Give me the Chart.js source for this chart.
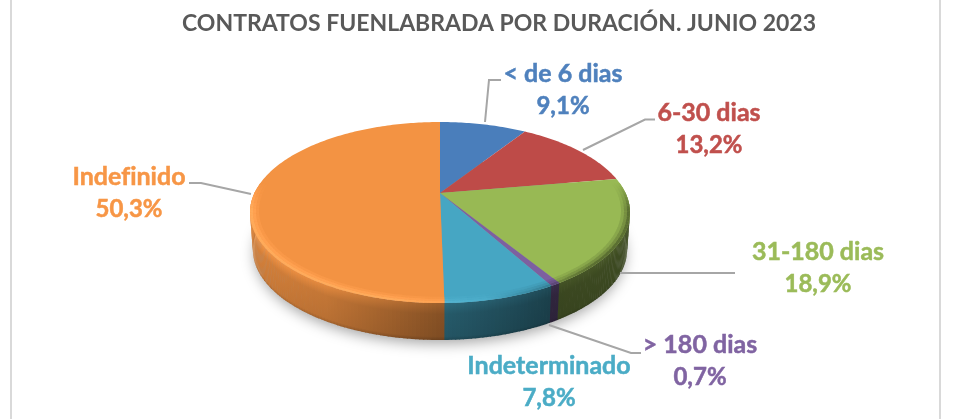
<!DOCTYPE html>
<html>
<head>
<meta charset="utf-8">
<style>html,body{margin:0;padding:0;background:#fff}canvas{display:block}</style>
<script src="https://cdn.jsdelivr.net/npm/chart.js@4/dist/chart.umd.js"></script>
</head>
<body>
<canvas id="c" width="956" height="419"></canvas>
<script>
const categories = ['< de 6 dias', '6-30 dias', '31-180 dias', '> 180 dias', 'Indeterminado', 'Indefinido'];
const values = [9.1, 13.2, 18.9, 0.7, 7.8, 50.3];
const valueLabels = ['9,1%', '13,2%', '18,9%', '0,7%', '7,8%', '50,3%'];
const colors = ['#4a7ebb', '#be4b48', '#98b954', '#7d60a0', '#46a6c3', '#f39343'];
const labelColors = ['#4f81bd', '#c0504d', '#9bbb59', '#8064a2', '#4bacc6', '#f79646'];
const titleText = 'CONTRATOS FUENLABRADA POR DURACIÓN. JUNIO 2023';

const labelPos = [[563, 74], [709, 113], [818, 252], [700, 345], [549, 366], [129, 177]];
const leaders = [
  [[485, 122], [489, 80], [501, 80]],
  [[583, 150], [645, 119.5], [655, 119.5]],
  [[620, 273], [735, 273]],
  [[549, 325], [631, 353], [641, 353]],
  null,
  [[251, 194], [201, 183], [189, 183]]
];

// Perspective view of the disc
const CX = 440, CY = 193, A = 185.5, B = 86.3, K = 0.2155, DEPTH = 37;
function project(r, a, low) {
  const u = r * Math.cos(a), v = r * Math.sin(a), w = 1 - K * v;
  const s = low ? 0.985 : 1;
  return [CX + s * A * u / w, CY + B * v / w + (low ? DEPTH : 0)];
}
function rgb(hex) { return [1, 3, 5].map(i => parseInt(hex.substr(i, 2), 16)); }
function css(c, f, add) {
  return 'rgb(' + c.map(x => Math.max(0, Math.min(255, Math.round(x * f + (add || 0))))).join(',') + ')';
}
function wallShade(u) {
  const pts = [[-1, .9], [-.5, .8], [0, .55], [.5, .38], [1, .42]];
  for (let i = 1; i < pts.length; i++) {
    if (u <= pts[i][0]) {
      const t = (u - pts[i - 1][0]) / (pts[i][0] - pts[i - 1][0]);
      return pts[i - 1][1] + t * (pts[i][1] - pts[i - 1][1]);
    }
  }
  return .42;
}

class Arc3D extends Chart.ArcElement {
  static id = 'arc3d';
  draw(ctx) {
    const start = this.startAngle, end = this.endAngle;
    const base = rgb(this.options.backgroundColor);
    const step = Math.PI / 180;
    const n = Math.max(2, Math.ceil((end - start) / step));
    const da = (end - start) / n;

    // side wall (front part only)
    for (let i = 0; i < n; i++) {
      const a0 = start + i * da, a1 = a0 + da + 0.004;
      if (Math.sin(a0 + da / 2) < -0.02) continue;
      const p0 = project(1, a0), p1 = project(1, a1), q1 = project(1, a1, true), q0 = project(1, a0, true);
      const f = wallShade(Math.cos(a0 + da / 2));
      const g = ctx.createLinearGradient(0, Math.min(p0[1], p1[1]), 0, Math.max(q0[1], q1[1]));
      g.addColorStop(0, css(base, Math.min(1, f * 1.18)));
      g.addColorStop(0.3, css(base, f));
      g.addColorStop(0.9, css(base, f * 0.95));
      g.addColorStop(1, css(base, f * 0.8));
      ctx.fillStyle = g;
      ctx.beginPath();
      ctx.moveTo(p0[0], p0[1]); ctx.lineTo(p1[0], p1[1]); ctx.lineTo(q1[0], q1[1]); ctx.lineTo(q0[0], q0[1]);
      ctx.closePath();
      ctx.fill();
    }

    // top face
    ctx.fillStyle = css(base, 1);
    ctx.beginPath();
    ctx.moveTo(CX, CY);
    for (let i = 0; i <= n; i++) {
      const p = project(1, start + i * da);
      ctx.lineTo(p[0], p[1]);
    }
    ctx.closePath();
    ctx.fill();

    // bevelled rim
    const rings = [[.955, .2], [.97, .45], [.985, .8]];
    for (const [r0, weight] of rings) {
      for (let i = 0; i < n; i++) {
        const a0 = start + i * da, a1 = a0 + da + 0.004, mid = a0 + da / 2;
        const u = Math.cos(mid), v = Math.sin(mid);
        if (v < -0.12) continue;
        const fade = Math.min(1, (v + 0.12) / 0.3);
        const light = u < 0.35 ? (0.35 - u) / 0.9 : 0;
        const dark = u > 0.2 ? Math.min(1, (u - 0.2) / 0.5) : 0;
        const add = 30 * weight * fade * Math.min(1, light * 1.6);
        const mul = 1 - 0.5 * weight * fade * dark;
        ctx.fillStyle = css(base, mul, add);
        const p = [project(r0, a0), project(r0, a1), project(r0 === .985 ? 1 : r0 + .015, a1), project(r0 === .985 ? 1 : r0 + .015, a0)];
        ctx.beginPath();
        ctx.moveTo(p[0][0], p[0][1]);
        for (let j = 1; j < 4; j++) ctx.lineTo(p[j][0], p[j][1]);
        ctx.closePath();
        ctx.fill();
      }
    }
  }
}
class Pie3DController extends Chart.PieController {
  static id = 'pie3d';
  static defaults = { dataElementType: 'arc3d' };
}
Chart.register(Arc3D, Pie3DController);

const frame = {
  id: 'frame',
  beforeDraw(chart) {
    const ctx = chart.ctx;
    ctx.save();
    ctx.fillStyle = '#fff';
    ctx.fillRect(0, 0, 956, 419);
    ctx.fillStyle = '#d9d9d9';
    ctx.fillRect(10, 0, 2, 419);
    ctx.fillRect(939, 0, 2, 419);
    ctx.restore();
  },
  beforeDatasetsDraw(chart) {
    const ctx = chart.ctx;
    ctx.save();
    ctx.shadowColor = 'rgba(0,0,0,0.36)';
    ctx.shadowBlur = 14;
    ctx.shadowOffsetY = 5;
    ctx.fillStyle = '#999';
    ctx.beginPath();
    for (let i = 0; i < 360; i += 2) {
      const p = project(.99, i * Math.PI / 180, true);
      if (i === 0) ctx.moveTo(p[0], p[1]); else ctx.lineTo(p[0], p[1]);
    }
    ctx.closePath();
    ctx.fill();
    ctx.restore();
  },
  afterDatasetsDraw(chart) {
    const ctx = chart.ctx;
    ctx.save();
    ctx.strokeStyle = '#a6a6a6';
    ctx.lineWidth = 2;
    leaders.forEach(pts => {
      if (!pts) return;
      ctx.beginPath();
      pts.forEach((p, i) => i ? ctx.lineTo(p[0], p[1]) : ctx.moveTo(p[0], p[1]));
      ctx.stroke();
    });
    ctx.letterSpacing = '0.01px';
    ctx.textAlign = 'center';
    ctx.textBaseline = 'middle';
    ctx.lineWidth = 0.5;
    categories.forEach((name, i) => {
      ctx.fillStyle = labelColors[i];
      ctx.strokeStyle = labelColors[i];
      ctx.font = 'bold 25px Lato';
      ctx.fillText(name, labelPos[i][0], labelPos[i][1]);
      ctx.strokeText(name, labelPos[i][0], labelPos[i][1]);
      ctx.font = 'bold 24px Lato';
      ctx.fillText(valueLabels[i], labelPos[i][0], labelPos[i][1] + 32.5);
      ctx.strokeText(valueLabels[i], labelPos[i][0], labelPos[i][1] + 32.5);
    });
    ctx.restore();
  }
};

new Chart(document.getElementById('c'), {
  type: 'pie3d',
  data: {
    labels: categories,
    datasets: [{ data: values, backgroundColor: colors, borderWidth: 0 }]
  },
  plugins: [frame],
  options: {
    responsive: false,
    animation: false,
    layout: { padding: { left: 42 } },
    plugins: {
      legend: { display: false },
      tooltip: { enabled: false },
      title: {
        display: true,
        text: titleText,
        color: '#595959',
        font: { family: 'Lato', size: 23, weight: 'bold' },
        padding: { top: 10, bottom: 10 }
      }
    }
  }
});
</script>
</body>
</html>
